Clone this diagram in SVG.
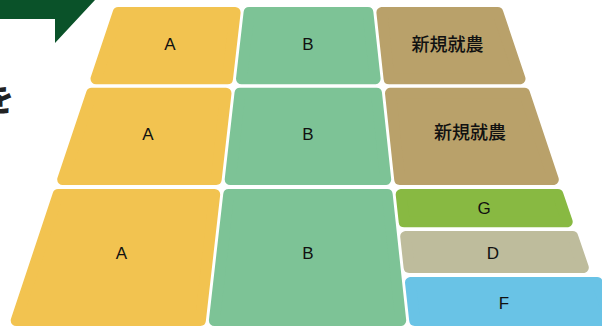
<svg xmlns="http://www.w3.org/2000/svg" width="602" height="327" viewBox="0 0 602 327">
  <style>
    .p { stroke-width: 11; stroke-linejoin: round; }
    .ya { fill: #F2C350; stroke: #F2C350; }
    .gb { fill: #7DC396; stroke: #7DC396; }
    .br { fill: #B9A16A; stroke: #B9A16A; }
    .gg { fill: #88B942; stroke: #88B942; }
    .dd { fill: #BEBC9C; stroke: #BEBC9C; }
    .ff { fill: #69C3E6; stroke: #69C3E6; }
    .t { font-family: "Liberation Sans", Arial, sans-serif; font-size: 17px; fill: #111; text-anchor: middle; }
    .j { font-family: "Noto Sans CJK JP", "Noto Sans", sans-serif; font-size: 18px; font-weight: 500; fill: #111; text-anchor: middle; }
  </style>
  <rect width="602" height="327" fill="#ffffff"/>
  <g id="banner">
    <polygon points="0,0 95,0 55,43 55,19 0,19" fill="#0A5229"/>
    <text x="14" y="111" font-family="'Noto Sans CJK JP', sans-serif" font-size="32" font-weight="900" fill="#222" text-anchor="end">を</text>
  </g>
  <g id="A1"><polygon class="p ya" points="118.2,12.5 235.1,12.5 227.5,78.8 96.0,78.8"/><text class="t" x="170" y="50">A</text></g>
  <g id="B1"><polygon class="p gb" points="249.1,12.5 367.9,12.5 375.1,78.8 241.5,78.8"/><text class="t" x="308" y="50">B</text></g>
  <g id="N1"><polygon class="p br" points="381.9,12.5 497.8,12.5 520.0,78.8 389.1,78.8"/><text class="j" x="447.5" y="51">新規就農</text></g>
  <g id="A2"><polygon class="p ya" points="91.6,93.2 226.0,93.2 216.2,179.5 62.7,179.5"/><text class="t" x="148" y="140">A</text></g>
  <g id="B2"><polygon class="p gb" points="240.0,93.2 376.5,93.2 385.7,179.5 230.2,179.5"/><text class="t" x="308" y="140">B</text></g>
  <g id="N2"><polygon class="p br" points="390.5,93.2 524.5,93.2 553.3,179.5 399.7,179.5"/><text class="j" x="470" y="139">新規就農</text></g>
  <g id="A3"><polygon class="p ya" points="58.1,194.5 214.7,194.5 200.4,320.5 16.2,320.5"/><text class="t" x="121.5" y="259">A</text></g>
  <g id="B3"><polygon class="p gb" points="228.7,194.5 387.2,194.5 400.7,320.5 214.4,320.5"/><text class="t" x="308" y="259">B</text></g>
  <g id="G"><polygon class="p gg" points="401.2,194.5 557.9,194.5 567.2,221.8 404.2,221.8"/><text class="t" x="484" y="214">G</text></g>
  <g id="D"><polygon class="p dd" points="405.7,236.5 572.7,236.5 583.3,267.5 409.1,267.5"/><text class="t" x="493" y="259">D</text></g>
  <g id="F"><polygon class="p ff" points="410.5,282.5 597.2,282.5 610.0,320.5 414.7,320.5"/><text class="t" x="504" y="309">F</text></g>
  <g id="connectors"/>
</svg>
